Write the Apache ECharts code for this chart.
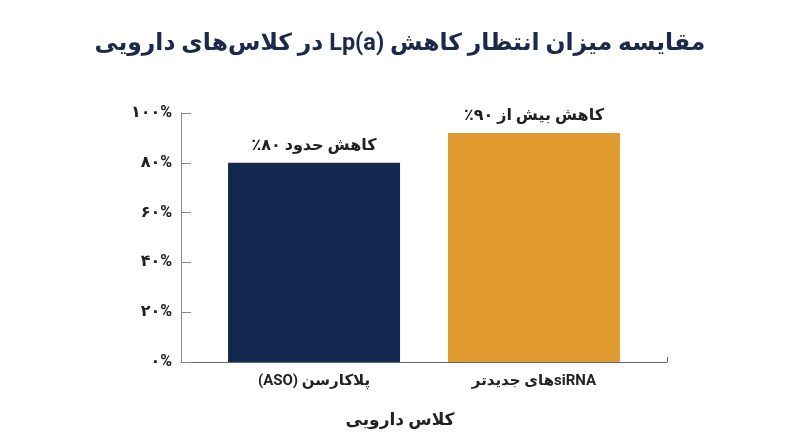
<!DOCTYPE html>
<html dir="rtl"><head><meta charset="utf-8">
<script src="https://cdn.jsdelivr.net/npm/echarts@6/dist/echarts.min.js"></script>
<style>html,body{margin:0;padding:0;background:#fff}#c{width:800px;height:447px;direction:rtl}</style>
</head><body><div id="c" dir="rtl"></div>
<script>
const categories = ['پلاکارسن (ASO)', 'siRNAهای جدیدتر'];
const values = [80, 92];
const barLabels = ['کاهش حدود ۸۰٪', 'کاهش بیش از ۹۰٪'];
const barColors = ['#14284f', '#e09a30'];
const yTickLabels = ['۰%', '۲۰%', '۴۰%', '۶۰%', '۸۰%', '۱۰۰%'];
const titleText = 'مقایسه میزان انتظار کاهش Lp(a) در کلاس‌های دارویی';
const xName = 'کلاس دارویی';

const FONT = 'Roboto, "DejaVu Sans", sans-serif';
const chart = echarts.init(document.getElementById('c'));
chart.setOption({
  backgroundColor: '#fff',
  animation: false,
  title: {
    text: titleText, left: 'center', top: 27,
    textStyle: { fontFamily: FONT, fontSize: 23.5, fontWeight: 'bold', color: '#1b2a4a' }
  },
  grid: { left: 181, right: 133, top: 113, bottom: 85 },
  xAxis: {
    type: 'value', min: -0.605, max: 1.605,
    splitLine: { show: false },
    axisLine: { show: true, onZero: false, lineStyle: { color: '#666', width: 1 } },
    axisTick: { show: true, inside: true, length: 5, customValues: [1.605], lineStyle: { color: '#666' } },
    axisLabel: {
      customValues: [0, 1],
      formatter: v => categories[Math.round(v)] || '',
      fontFamily: FONT, fontSize: 15, fontWeight: 'bold', color: '#222', margin: 12
    },
    name: xName, nameLocation: 'middle', nameGap: 50,
    nameTextStyle: { fontFamily: FONT, fontSize: 17, fontWeight: 'bold', color: '#222', padding: [0, 48, 0, 0] }
  },
  yAxis: {
    type: 'value', min: 0, max: 100, interval: 20,
    splitLine: { show: false },
    axisLine: { show: true, onZero: false, lineStyle: { color: '#888', width: 1 } },
    axisTick: { show: true, inside: true, length: 10, lineStyle: { color: '#888' } },
    axisLabel: {
      formatter: v => yTickLabels[Math.round(v / 20)],
      fontFamily: FONT, fontSize: 16, fontWeight: 'bold', color: '#222', margin: 9
    }
  },
  series: [{
    type: 'bar',
    barWidth: 172,
    data: values.map((v, i) => ({ value: [i, v], itemStyle: { color: barColors[i] } })),
    label: {
      show: true, position: 'top', distance: 9,
      formatter: p => barLabels[p.dataIndex],
      fontFamily: FONT, fontSize: 16, fontWeight: 'bold', color: '#222'
    }
  }]
});
</script></body></html>
